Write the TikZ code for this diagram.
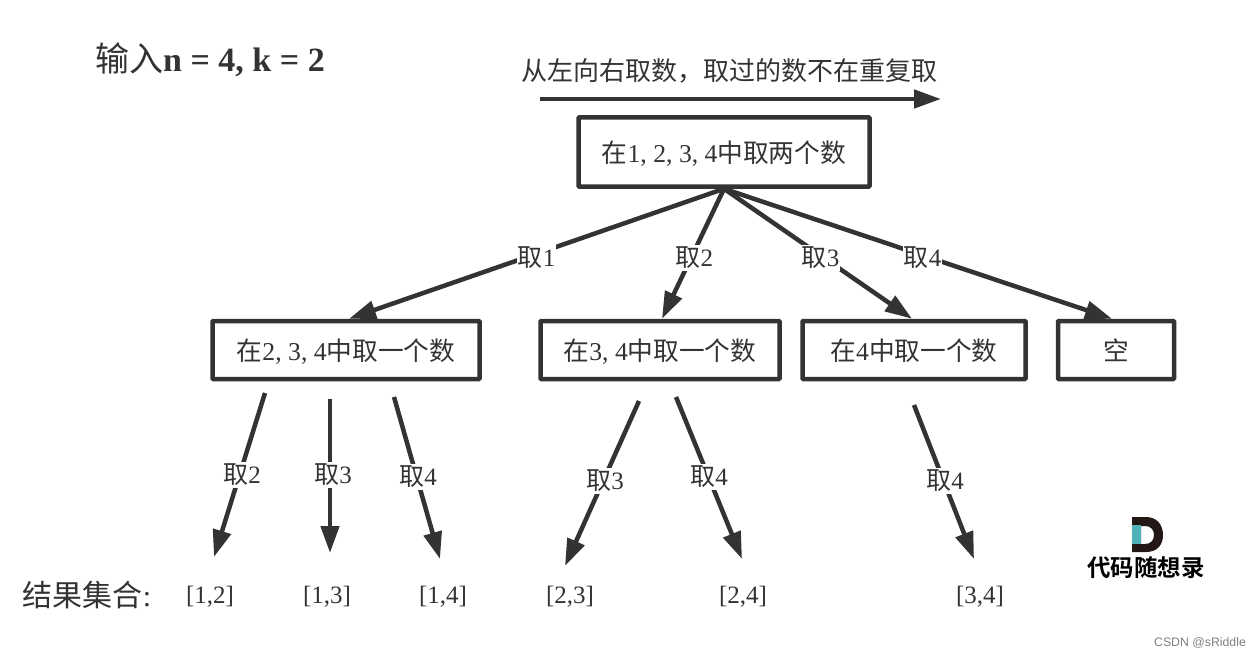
\documentclass[tikz,border=0pt]{standalone}
\usepackage{fontspec}
\usetikzlibrary{arrows.meta}
\setmainfont{Liberation Serif}
\newfontfamily\cjk{Noto Sans CJK SC}[BoldFont={Noto Sans CJK SC Bold}]
\definecolor{ink}{HTML}{333333}
\definecolor{logoteal}{HTML}{4FB3B8}
\definecolor{logodark}{HTML}{231815}
\newcommand{\cj}[1]{{\cjk #1}}
\newcommand{\boxtxt}[2]{\raisebox{-#1}[0pt][0pt]{#2}}
\tikzset{
  x=1pt,y=-1pt,
  box/.style={draw=ink,line width=4.5pt,fill=white,rounded corners=0.8pt,text=ink,font=\fontsize{25.7}{25.7}\selectfont,inner sep=0pt,anchor=center,minimum height=58pt},
  arr/.style={draw=ink,line width=4.5pt,-{Triangle[length=27pt,width=18pt]}},
  lab/.style={fill=white,text=ink,font=\fontsize{25}{25}\selectfont,inner xsep=1pt,inner ysep=2pt},
  txt/.style={text=ink,font=\fontsize{25}{25}\selectfont,inner sep=0pt},
  res/.style={text=ink,font=\fontsize{25}{25}\selectfont,inner sep=0pt},
}
\begin{document}
\begin{tikzpicture}
\useasboundingbox (0,0) rectangle (1260,658);
\fill[white] (0,0) rectangle (1260,658);
\node[txt,font=\fontsize{34}{34}\selectfont] (title) at (210,60) {\cj{输入}\textbf{n = 4, k = 2}};
\node[txt,font=\fontsize{26}{26}\selectfont] (note) at (729,71) {\cj{从左向右取数，取过的数不在重复取}};
\coordinate (ts) at (540,99);
\coordinate (te) at (941,99);
\draw[arr] (ts) -- (te);

\node[box,minimum width=291pt,minimum height=69pt] (root) at (724,152) {\boxtxt{10pt}{\cj{在}1, 2, 3, 4\cj{中取两个数}}};
\node[box,minimum width=267pt] (a) at (346,350) {\boxtxt{10.5pt}{\cj{在}2, 3, 4\cj{中取一个数}}};
\node[box,minimum width=239pt] (b) at (660,350) {\boxtxt{10.5pt}{\cj{在}3, 4\cj{中取一个数}}};
\node[box,minimum width=223pt] (c) at (914,350) {\boxtxt{10.5pt}{\cj{在}4\cj{中取一个数}}};
\node[box,minimum width=116pt] (d) at (1116,350) {\boxtxt{10.5pt}{\cj{空}}};

\draw[arr] (root.south) -- node[lab,pos=0.505,xshift=2pt,yshift=-3pt] (l1) {\cj{取}1} ([xshift=3pt]a.north);
\draw[arr] (root.south) -- node[lab,pos=0.525,xshift=3pt,yshift=-1pt] (l2) {\cj{取}2} ([xshift=2pt]b.north);
\draw[arr] (root.south) -- node[lab,pos=0.525,xshift=-2pt,yshift=-1pt] (l3) {\cj{取}3} ([xshift=-2pt]c.north);
\draw[arr] (root.south) -- node[lab,pos=0.525,xshift=-5pt,yshift=-1pt] (l4) {\cj{取}4} ([xshift=-4pt]d.north);

\coordinate (s1) at (265,393); \coordinate (e1) at (214,557);
\coordinate (s2) at (330,399); \coordinate (e2) at (330,553);
\coordinate (s3) at (394,397); \coordinate (e3) at (440,559);
\coordinate (s4) at (639,401); \coordinate (e4) at (565,566);
\coordinate (s5) at (676,397); \coordinate (e5) at (742,559);
\coordinate (s6) at (914,405); \coordinate (e6) at (974,559);
\draw[arr] (s1) -- (e1);
\draw[arr] (s2) -- (e2);
\draw[arr] (s3) -- (e3);
\draw[arr] (s4) -- (e4);
\draw[arr] (s5) -- (e5);
\draw[arr] (s6) -- (e6);
\node[lab] (m1) at (242,475) {\cj{取}2};
\node[lab] (m2) at (333,475) {\cj{取}3};
\node[lab] (m3) at (418,477) {\cj{取}4};
\node[lab] (m4) at (605,481) {\cj{取}3};
\node[lab] (m5) at (709,477) {\cj{取}4};
\node[lab] (m6) at (945,481) {\cj{取}4};

\node[txt,font=\fontsize{30}{30}\selectfont] (rl) at (87,595) {\cj{结果集合}:};
\node[res] (r1) at (210,597) {[1,2]};
\node[res] (r2) at (327,597) {[1,3]};
\node[res] (r3) at (443,597) {[1,4]};
\node[res] (r4) at (570,597) {[2,3]};
\node[res] (r5) at (743,597) {[2,4]};
\node[res] (r6) at (980,597) {[3,4]};

% logo
\fill[logodark,even odd rule] (1132,517) -- (1146,517) .. controls (1157,517) and (1163,525) .. (1163,535) .. controls (1163,545) and (1157,552) .. (1146,552) -- (1132,552) -- cycle
  (1141,526) -- (1141,544) -- (1145,544) .. controls (1151,544) and (1154,540) .. (1154,535) .. controls (1154,530) and (1151,526) .. (1145,526) -- cycle;
\fill[logoteal] (1132,525) rectangle (1141,544);
\node[text=black,font=\fontsize{23.4}{23.4}\selectfont,inner sep=0pt] (logo) at (1146,568) {\cj{\textbf{代码随想录}}};
\node[text=black!50,font=\fontsize{12.3}{12.3}\selectfont,inner sep=0pt] (csdn) at (1200,643) {\fontspec{Liberation Sans}CSDN @sRiddle};
\end{tikzpicture}
\end{document}
